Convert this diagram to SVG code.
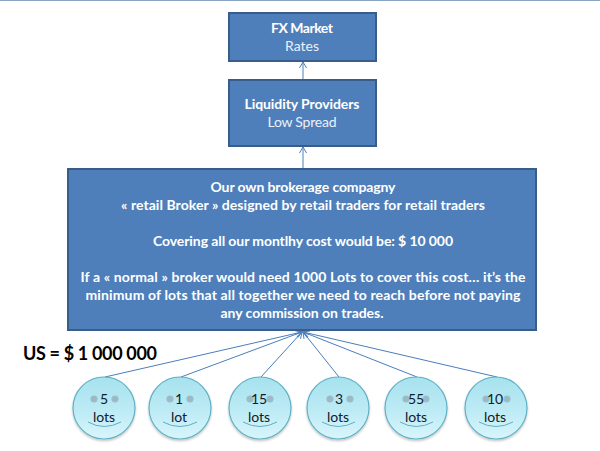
<svg xmlns="http://www.w3.org/2000/svg" width="600" height="451" viewBox="0 0 600 451">
<style>
text{font-family:Lato,"Open Sans","Liberation Sans",sans-serif;text-anchor:middle}
.box{fill:#4f7fbb;stroke:#385d8a;stroke-width:2}
.w{fill:#fff;font-size:14px}
.b{font-weight:700}
.l{fill:#eaf1fa;font-size:14px}
.c{fill:none;stroke:#4a7ebb;stroke-width:1}
.f{fill:url(#g);stroke:#5fb0c4;stroke-width:1.2;filter:url(#s)}
.e{fill:#9fb9c4;stroke:#8fc4d2;stroke-width:.6}
.m{fill:none;stroke:#5fb0c4;stroke-width:1}
.t{fill:#10202a;font-size:14px}
</style>
<defs>
<linearGradient id="g" x1="0" y1="0" x2="0" y2="1"><stop offset="0" stop-color="#a6e2ee"/><stop offset=".55" stop-color="#bdebf5"/><stop offset="1" stop-color="#d9f5fb"/></linearGradient>
<filter id="s" x="-20%" y="-20%" width="140%" height="140%"><feDropShadow dx="0" dy="1.5" stdDeviation="1.2" flood-color="#000" flood-opacity=".25"/></filter>
<marker id="a" markerWidth="10" markerHeight="10" refX="7" refY="4" orient="auto" markerUnits="userSpaceOnUse"><path d="M1 0.5L7 4L1 7.5" fill="none" stroke="#4a7ebb" stroke-width="1"/></marker>
</defs>
<rect x="0" y="0" width="600" height="1" fill="#8aa6c4"/>
<g id="connectors">
<path class="c" marker-end="url(#a)" d="M303 79V62"/>
<path class="c" marker-end="url(#a)" d="M303 168V147"/>
<path class="c" marker-end="url(#a)" d="M105 377L302 332"/>
<path class="c" marker-end="url(#a)" d="M181 377L302 332"/>
<path class="c" marker-end="url(#a)" d="M261 377L302 332"/>
<path class="c" marker-end="url(#a)" d="M339 377L303 332"/>
<path class="c" marker-end="url(#a)" d="M417 377L303 332"/>
<path class="c" marker-end="url(#a)" d="M497 377L303 332"/>
</g>
<g id="fx-market">
<rect class="box" x="229" y="13" width="147" height="48"/>
<text class="w b" x="302" y="33" textLength="62">FX Market</text>
<text class="l" x="302" y="51" textLength="34">Rates</text>
</g>
<g id="liquidity-providers">
<rect class="box" x="229" y="80" width="147" height="66"/>
<text class="w b" x="302" y="109" textLength="115">Liquidity Providers</text>
<text class="l" x="302" y="127" textLength="69">Low Spread</text>
</g>
<g id="brokerage">
<rect class="box" x="68" y="169" width="468" height="161"/>
<text class="w b" x="303" y="192" textLength="185">Our own brokerage compagny</text>
<text class="w b" x="303" y="210" textLength="364">« retail Broker » designed by retail traders for retail traders</text>
<text class="w b" x="303" y="246" textLength="300">Covering all our montlhy cost would be: $ 10 000</text>
<text class="w b" x="303" y="282" textLength="445">If  a « normal » broker would need  1000  Lots to cover this cost… it’s the</text>
<text class="w b" x="303" y="300" textLength="435">minimum of lots that all  together  we need to reach before not paying</text>
<text class="w b" x="302" y="318" textLength="163">any commission on trades.</text>
</g>
<text x="90" y="360" font-size="18" font-weight="700" fill="#000" textLength="134">US = $ 1 000 000</text>
<g id="n5"><circle class="f" cx="104" cy="408" r="31"/><circle class="e" cx="94" cy="399" r="3.3"/><circle class="e" cx="115" cy="399" r="3.3"/><path class="m" d="M88 422Q104 431 121 422"/><text class="t" x="104" y="404">5</text><text class="t" x="104" y="422">lots</text></g>
<g id="n1"><circle class="f" cx="180" cy="408" r="31"/><circle class="e" cx="170" cy="399" r="3.3"/><circle class="e" cx="190" cy="399" r="3.3"/><path class="m" d="M163 422Q180 431 197 422"/><text class="t" x="179" y="404">1</text><text class="t" x="179" y="422">lot</text></g>
<g id="n15"><circle class="f" cx="260" cy="408" r="31"/><circle class="e" cx="250" cy="399" r="3.3"/><circle class="e" cx="270" cy="399" r="3.3"/><path class="m" d="M243 422Q260 431 277 422"/><text class="t" x="259" y="404">15</text><text class="t" x="259" y="422">lots</text></g>
<g id="n3"><circle class="f" cx="338" cy="408" r="31"/><circle class="e" cx="330" cy="399" r="3.3"/><circle class="e" cx="350" cy="399" r="3.3"/><path class="m" d="M322 422Q338 431 355 422"/><text class="t" x="339" y="404">3</text><text class="t" x="338" y="422">lots</text></g>
<g id="n55"><circle class="f" cx="416" cy="408" r="31"/><circle class="e" cx="406" cy="399" r="3.3"/><circle class="e" cx="426" cy="399" r="3.3"/><path class="m" d="M400 422Q416 431 433 422"/><text class="t" x="416" y="404">55</text><text class="t" x="416" y="422">lots</text></g>
<g id="n10"><circle class="f" cx="496" cy="408" r="31"/><circle class="e" cx="486" cy="399" r="3.3"/><circle class="e" cx="507" cy="399" r="3.3"/><path class="m" d="M479 422Q496 431 513 422"/><text class="t" x="495" y="404">10</text><text class="t" x="495" y="422">lots</text></g>
</svg>
